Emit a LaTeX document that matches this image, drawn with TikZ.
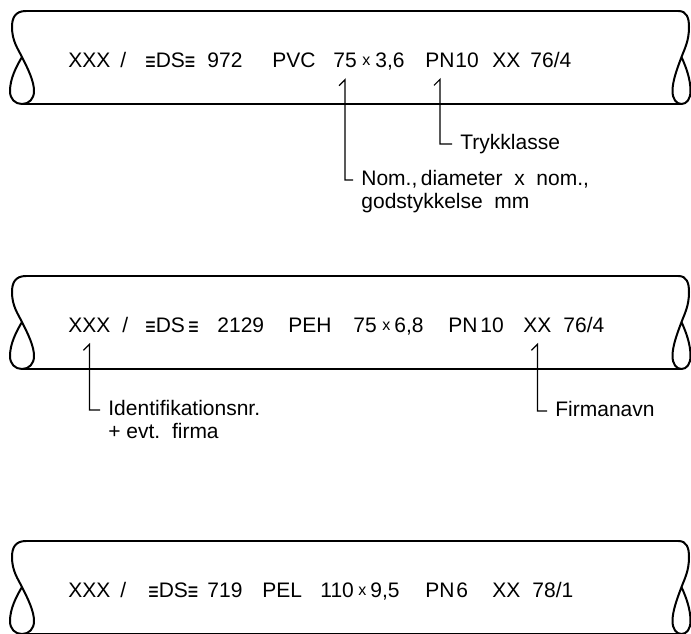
\documentclass[tikz,border=0pt]{standalone}
\usepackage{graphicx}
\usepackage{fontspec}
\setmainfont{Liberation Sans}
\usetikzlibrary{positioning}

\newcommand\dsbar{\raisebox{-1.5pt}{\scalebox{0.85}[1.2]{\bfseries ≡}}}
\newcommand\bytimes{\raisebox{1pt}{\fontsize{8}{8}\selectfont x}}

\tikzset{pipe end/.pic={
  \draw[pipe] (14,0) .. controls (3,0) and (0,7) .. (0,16)
    .. controls (0,30) and (6,38) .. (10,46)
    .. controls (16,58) and (22,70) .. (22,80)
    .. controls (22,88) and (17,93) .. (10,93)
    .. controls (3,93) and (-2,88) .. (-2,80)
    .. controls (-2,68) and (4,56) .. (10,46);
}}

\begin{document}
\begin{tikzpicture}[x=0.5pt,y=-0.5pt,
                    font=\fontsize{10.5}{12}\selectfont,
                    pipe/.style={line width=1pt,line join=round},
                    leader/.style={line width=0.6pt},
                    token/.style={anchor=base west,inner xsep=0pt,inner ysep=6pt},
                    note/.style={anchor=west,inner xsep=4pt,inner ysep=0pt,
                                 text height=8pt,text depth=2.5pt}]
  \useasboundingbox (0,0) rectangle (691,633);
  \clip (0,0) rectangle (691,633);
  % three pipe pieces, each broken off at both ends
  \foreach \y in {11,276,541} {
    \begin{scope}[shift={(0,\y)}]
      \draw[pipe] (26,0) -- (678.5,0);
      \draw[pipe] (22,93) -- (681.5,93);
      \pic at (12,0) {pipe end};
      \pic[xscale=-0.75] at (689,0) {pipe end};
    \end{scope}
  }
  % marking on each pipe
  \foreach \x/\txt [count=\i] in {68/XXX, 120/{/}, 145/{\dsbar DS\dsbar}, 207/972,
      272/PVC, 333/75, 362/\bytimes, 375/{3,6}, 425/PN, 455/10, 492/XX, 530/{76/4}}
    \node[token] (p1-\i) at (\x,67) {\txt};
  \foreach \x/\txt [count=\i] in {68/XXX, 122/{/}, 145/{\dsbar DS\,\dsbar}, 217/2129,
      288/PEH, 353/75, 382/\bytimes, 394/{6,8}, 448/PN, 480/10, 523/XX, 563/{76/4}}
    \node[token] (p2-\i) at (\x,332) {\txt};
  \foreach \x/\txt [count=\i] in {68/XXX, 120/{/}, 148/{\dsbar DS\dsbar}, 207/719,
      262/PEL, 320/110, 358/\bytimes, 370/{9,5}, 425/PN, 456/6, 492/XX, 532/{78/1}}
    \node[token] (p3-\i) at (\x,597) {\txt};
  % explanations
  \node[note] (tryk) at (452,144) {Trykklasse};
  \node[note] (nomdia) at (353,180) {Nom.,\,diameter\ \ x\ \ nom.,};
  \node[note,below right=0.5pt and 0pt of nomdia.south west] (nomwall) {godstykkelse\ \ mm};
  \node[note] (ident) at (100,410) {Identifikationsnr.};
  \node[note,below right=0.5pt and 0pt of ident.south west] (identfirm) {+ evt.\ \ firma};
  \node[note] (firma) at (547,411) {Firmanavn};
  \draw[leader] ([shift={(-6,6)}]p1-6.south) -- (p1-6.south) |- (nomdia.west);
  \draw[leader] ([shift={(-6,6)}]p1-9.south) -- (p1-9.south) |- (tryk.west);
  \draw[leader] ([shift={(-6,6)}]p2-1.south) -- (p2-1.south) |- (ident.west);
  \draw[leader] ([shift={(-6,6)}]p2-11.south) -- (p2-11.south) |- (firma.west);
\end{tikzpicture}
\end{document}
